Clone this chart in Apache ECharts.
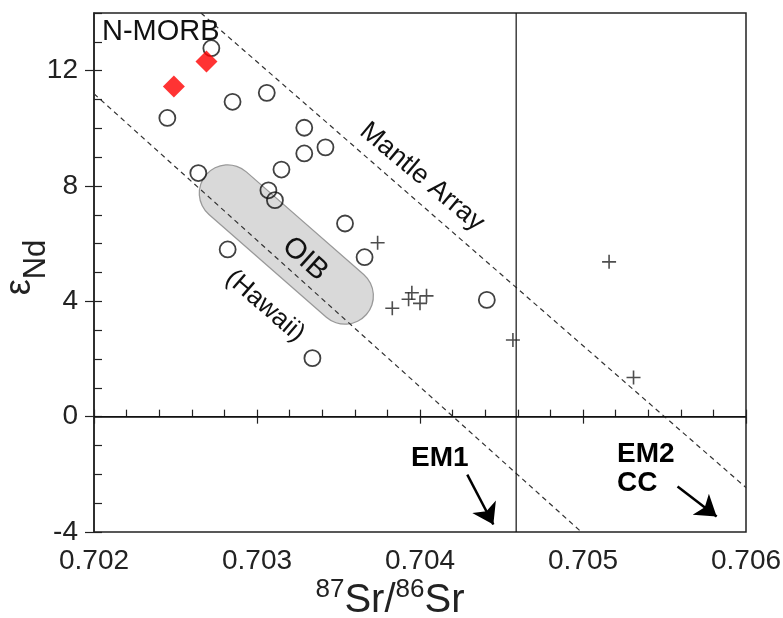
<!DOCTYPE html>
<html>
<head>
<meta charset="utf-8">
<script src="https://cdn.jsdelivr.net/npm/echarts@6/dist/echarts.min.js"></script>
<style>
  html, body { margin: 0; padding: 0; background: #fff; }
  #chart { width: 783px; height: 618px; }
</style>
</head>
<body>
<div id="chart"></div>
<script>
// sample points, [87Sr/86Sr, eNd]
const circlePts = [
  [0.70272, 12.78], [0.70306, 11.23], [0.70285, 10.92], [0.70245, 10.36],
  [0.70329, 10.02], [0.70342, 9.34], [0.70329, 9.13], [0.70315, 8.57],
  [0.70264, 8.45], [0.70307, 7.85], [0.70311, 7.51], [0.70354, 6.70],
  [0.70366, 5.53], [0.70282, 5.80], [0.70334, 2.03], [0.70441, 4.05]
]
const diamondPts = [[0.70269, 12.32], [0.70249, 11.45]]
const crossPts = [
  [0.70374, 6.03], [0.70383, 3.76], [0.70395, 4.30], [0.70393, 4.07],
  [0.70400, 3.93], [0.70404, 4.19], [0.70457, 2.66], [0.70516, 5.37],
  [0.70531, 1.36]
]
// mantle array bounds
const mantleUpper = [[0.702656, 14], [0.706, -2.46]]
const mantleLower = [[0.702, 11.2], [0.70499, -4]]
// bulk earth reference lines
const zeroLine = [[0.702, 0], [0.706, 0]]
const bulkSrLine = [[0.70459, -4], [0.70459, 14]]
// OIB (Hawaii) field centre line
const oibField = [[0.70282, 7.75, 0.70354, 4.19]]
// EM arrows
const em1Arrow = [[0.70429, -2.01], [0.70445, -3.74]]
const em2Arrow = [[0.70558, -2.42], [0.70582, -3.46]]
const yTickLabels = [-4, 0, 4, 8, 12]

const font = 'Arial, "Liberation Sans", sans-serif'
const chart = echarts.init(document.getElementById('chart'))

const dashStyle = { color: '#333', width: 1.2, type: [5, 4] }
const solidStyle = { color: '#111', width: 1.2 }

const option = {
  animation: false,
  grid: {
    left: 94, right: 37, top: 13, bottom: 86,
    containLabel: false, outerBoundsMode: 'none',
    show: true, borderColor: '#222', borderWidth: 1.5, backgroundColor: '#fff'
  },
  xAxis: [
    {
      type: 'value', min: 0.702, max: 0.706, interval: 0.0002,
      axisLine: { lineStyle: { color: '#222', width: 1.5 } },
      axisTick: { inside: true, length: 7, lineStyle: { color: '#222', width: 1.2 } },
      axisLabel: { show: false },
      splitLine: { show: false }
    },
    {
      type: 'value', min: 0.702, max: 0.706, interval: 0.001, position: 'bottom',
      axisLine: { show: false },
      axisTick: { length: 7, lineStyle: { color: '#222', width: 1.2 } },
      axisLabel: {
        margin: 15, fontSize: 28, fontFamily: font, color: '#222',
        formatter: v => v.toFixed(3)
      },
      splitLine: { show: false },
      name: '{s|87}{r|Sr/}{s|86}{r|Sr}',
      nameLocation: 'middle', nameGap: 45, nameMoveOverlap: false,
      nameTextStyle: {
        padding: [0, 60, 0, 0],
        rich: {
          s: { fontSize: 26, fontFamily: font, color: '#222', verticalAlign: 'top', lineHeight: 26 },
          r: { fontSize: 40, fontFamily: font, color: '#222', verticalAlign: 'bottom', lineHeight: 44 }
        }
      }
    }
  ],
  yAxis: [
    {
      type: 'value', min: -4, max: 14, interval: 1,
      axisLine: { lineStyle: { color: '#222', width: 1.5 } },
      axisTick: { inside: true, length: 8, lineStyle: { color: '#222', width: 1.2 } },
      axisLabel: { show: false },
      splitLine: { show: false }
    },
    {
      type: 'value', min: -4, max: 14, interval: 4, position: 'left',
      axisLine: { show: false },
      axisTick: { length: 9, customValues: yTickLabels, lineStyle: { color: '#222', width: 1.2 } },
      axisLabel: { margin: 16, fontSize: 28, fontFamily: font, color: '#222', customValues: yTickLabels },
      splitLine: { show: false },
      name: '{e|ε}{n|Nd}',
      nameLocation: 'middle', nameGap: 42, nameMoveOverlap: false,
      nameTextStyle: {
        padding: [0, 0, 0, 10],
        rich: {
          e: { fontSize: 36, fontFamily: font, color: '#222', verticalAlign: 'top', padding: [0, 0, 14, 0] },
          n: { fontSize: 31, fontFamily: font, color: '#222', verticalAlign: 'bottom', lineHeight: 32 }
        }
      }
    }
  ],
  series: [
    {
      type: 'custom', name: 'OIB', z: 1,
      data: oibField,
      encode: { x: [0, 2], y: [1, 3] },
      renderItem: function (params, api) {
        const p0 = api.coord([api.value(0), api.value(1)])
        const p1 = api.coord([api.value(2), api.value(3)])
        return {
          type: 'group',
          children: [
            { type: 'polyline', shape: { points: [p0, p1] }, style: { stroke: '#999', lineWidth: 58, lineCap: 'round', fill: null } },
            { type: 'polyline', shape: { points: [p0, p1] }, style: { stroke: '#d9d9d9', lineWidth: 55.5, lineCap: 'round', fill: null } }
          ]
        }
      }
    },
    { type: 'line', data: mantleUpper, symbol: 'none', lineStyle: dashStyle, z: 2 },
    { type: 'line', data: mantleLower, symbol: 'none', lineStyle: dashStyle, z: 2 },
    { type: 'line', data: zeroLine, symbol: 'none', lineStyle: solidStyle, z: 2 },
    { type: 'line', data: bulkSrLine, symbol: 'none', lineStyle: solidStyle, z: 2 },
    {
      type: 'lines', coordinateSystem: 'cartesian2d', z: 3,
      symbol: ['none', 'arrow'], symbolSize: 20,
      lineStyle: { color: '#000', width: 2.5, opacity: 1 },
      data: [{ coords: em1Arrow }, { coords: em2Arrow }]
    },
    {
      type: 'scatter', data: circlePts, symbol: 'circle', symbolSize: 16, z: 4,
      itemStyle: { color: 'rgba(0,0,0,0)', borderColor: '#111', borderWidth: 1.8 }
    },
    {
      type: 'scatter', data: crossPts, symbol: 'path://M0,-1L0,1M-1,0L1,0', symbolSize: 14, z: 4,
      itemStyle: { color: 'none', borderColor: '#222', borderWidth: 1.6 }
    },
    {
      type: 'scatter', data: diamondPts, symbol: 'diamond', symbolSize: 22, z: 5,
      itemStyle: { color: '#ff0000' }
    }
  ],
  graphic: [
    { type: 'text', x: 102, y: 32, style: { text: 'N-MORB', font: '29px ' + font, fill: '#111', verticalAlign: 'middle' }, z: 10 },
    { type: 'text', x: 422, y: 177, rotation: -40 * Math.PI / 180, style: { text: 'Mantle Array', font: '27px ' + font, fill: '#111', align: 'center', verticalAlign: 'middle' }, z: 10 },
    { type: 'text', x: 305, y: 259, rotation: -42 * Math.PI / 180, style: { text: 'OIB', font: '29px ' + font, fill: '#111', align: 'center', verticalAlign: 'middle' }, z: 10 },
    { type: 'text', x: 265, y: 306, rotation: -41 * Math.PI / 180, style: { text: '(Hawaii)', font: '26px ' + font, fill: '#111', align: 'center', verticalAlign: 'middle' }, z: 10 },
    { type: 'text', x: 411, y: 458, style: { text: 'EM1', font: 'bold 28px ' + font, fill: '#000', verticalAlign: 'middle' }, z: 10 },
    { type: 'text', x: 617, y: 454, style: { text: 'EM2', font: 'bold 28px ' + font, fill: '#000', verticalAlign: 'middle' }, z: 10 },
    { type: 'text', x: 617, y: 483, style: { text: 'CC', font: 'bold 28px ' + font, fill: '#000', verticalAlign: 'middle' }, z: 10 }
  ]
}

chart.setOption(option)
</script>
</body>
</html>
